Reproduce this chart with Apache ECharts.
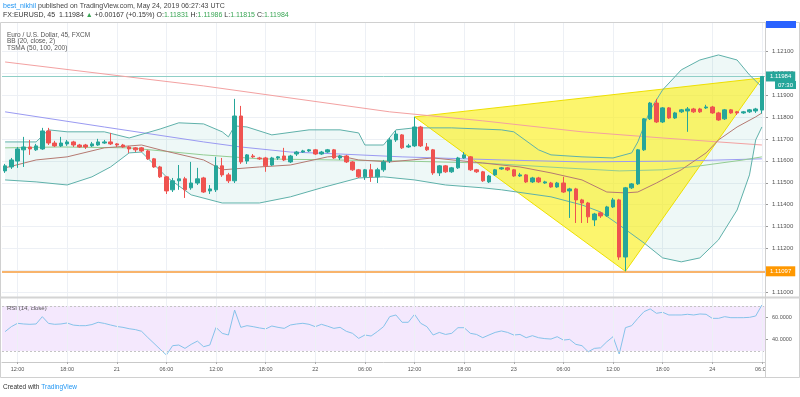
<!DOCTYPE html>
<html>
<head>
<meta charset="utf-8">
<script src="https://cdn.jsdelivr.net/npm/echarts@6.0.0/dist/echarts.min.js"></script>
<style>
html,body{margin:0;padding:0;background:#ffffff;}
#chart{width:800px;height:397px;}
</style>
</head>
<body>
<div id="chart"></div>
<script>
// ---------------- data ----------------
const barStartUTC = Date.UTC(2019, 4, 20, 10, 30);
const barMinutes = 45;

// [open, close, low, high]
const ohlc = [
[1.11554,1.11577,1.11545,1.11586],[1.11572,1.11604,1.11563,1.11613],[1.11599,1.11654,1.11568,1.11663],[1.11650,1.11663,1.11572,1.11709],
[1.11663,1.11654,1.11627,1.11695],[1.11650,1.11668,1.11645,1.11677],[1.11654,1.11736,1.11650,1.11750],[1.11736,1.11681,1.11672,1.11750],
[1.11681,1.11668,1.11663,1.11691],[1.11668,1.11681,1.11663,1.11709],[1.11677,1.11686,1.11668,1.11695],[1.11686,1.11672,1.11663,1.11691],
[1.11672,1.11663,1.11659,1.11677],[1.11672,1.11663,1.11654,1.11677],[1.11668,1.11677,1.11663,1.11686],[1.11672,1.11686,1.11668,1.11700],
[1.11681,1.11686,1.11677,1.11695],[1.11686,1.11677,1.11672,1.11727],[1.11677,1.11672,1.11663,1.11681],[1.11672,1.11663,1.11659,1.11677],
[1.11663,1.11654,1.11636,1.11668],[1.11659,1.11650,1.11640,1.11663],[1.11659,1.11645,1.11640,1.11663],[1.11645,1.11609,1.11604,1.11650],
[1.11609,1.11572,1.11568,1.11613],[1.11572,1.11527,1.11522,1.11577],[1.11527,1.11463,1.11449,1.11531],[1.11468,1.11509,1.11458,1.11522],
[1.11509,1.11518,1.11468,1.11581],[1.11518,1.11468,1.11431,1.11527],[1.11477,1.11499,1.11468,1.11595],[1.11499,1.11518,1.11490,1.11568],
[1.11522,1.11458,1.11454,1.11527],[1.11463,1.11472,1.11449,1.11490],[1.11468,1.11577,1.11458,1.11618],[1.11577,1.11536,1.11527,1.11613],
[1.11536,1.11509,1.11499,1.11545],[1.11509,1.11804,1.11499,1.11882],[1.11804,1.11595,1.11586,1.11850],[1.11599,1.11627,1.11586,1.11631],
[1.11622,1.11618,1.11613,1.11631],[1.11613,1.11609,1.11604,1.11618],[1.11613,1.11577,1.11550,1.11618],[1.11581,1.11613,1.11577,1.11618],
[1.11613,1.11618,1.11604,1.11622],[1.11622,1.11604,1.11599,1.11659],[1.11595,1.11622,1.11590,1.11627],[1.11631,1.11640,1.11622,1.11645],
[1.11640,1.11645,1.11636,1.11650],[1.11645,1.11650,1.11640,1.11654],[1.11650,1.11631,1.11627,1.11654],[1.11631,1.11640,1.11627,1.11645],
[1.11640,1.11650,1.11636,1.11654],[1.11650,1.11613,1.11609,1.11654],[1.11613,1.11622,1.11604,1.11627],[1.11622,1.11595,1.11590,1.11627],
[1.11595,1.11559,1.11554,1.11599],[1.11559,1.11527,1.11522,1.11563],[1.11527,1.11559,1.11513,1.11563],[1.11559,1.11527,1.11504,1.11586],
[1.11527,1.11559,1.11499,1.11568],[1.11559,1.11595,1.11550,1.11604],[1.11599,1.11695,1.11590,1.11704],[1.11695,1.11722,1.11686,1.11736],
[1.11718,1.11659,1.11654,1.11722],[1.11663,1.11668,1.11659,1.11677],[1.11668,1.11754,1.11663,1.11800],[1.11754,1.11668,1.11663,1.11759],
[1.11663,1.11650,1.11645,1.11681],[1.11650,1.11545,1.11536,1.11654],[1.11545,1.11577,1.11531,1.11581],[1.11577,1.11550,1.11545,1.11581],
[1.11550,1.11568,1.11545,1.11572],[1.11568,1.11613,1.11563,1.11618],[1.11613,1.11627,1.11609,1.11640],[1.11618,1.11559,1.11554,1.11622],
[1.11559,1.11550,1.11545,1.11563],[1.11550,1.11509,1.11504,1.11554],[1.11504,1.11531,1.11499,1.11536],[1.11536,1.11559,1.11531,1.11563],
[1.11563,1.11568,1.11559,1.11572],[1.11568,1.11559,1.11554,1.11572],[1.11559,1.11531,1.11527,1.11563],[1.11531,1.11536,1.11527,1.11545],
[1.11536,1.11504,1.11499,1.11540],[1.11504,1.11522,1.11499,1.11527],[1.11522,1.11504,1.11499,1.11527],[1.11499,1.11504,1.11495,1.11509],
[1.11499,1.11481,1.11477,1.11504],[1.11481,1.11499,1.11477,1.11504],[1.11499,1.11458,1.11454,1.11527],[1.11463,1.11472,1.11340,1.11477],
[1.11472,1.11422,1.11317,1.11477],[1.11422,1.11408,1.11317,1.11427],[1.11408,1.11345,1.11317,1.11413],[1.11331,1.11358,1.11303,1.11363],
[1.11363,1.11349,1.11340,1.11368],[1.11349,1.11390,1.11345,1.11395],[1.11390,1.11422,1.11385,1.11431],[1.11422,1.11162,1.11149,1.11427],
[1.11162,1.11477,1.11097,1.11481],[1.11477,1.11495,1.11472,1.11499],[1.11495,1.11650,1.11490,1.11654],[1.11650,1.11791,1.11645,1.11795],
[1.11791,1.11863,1.11786,1.11868],[1.11863,1.11777,1.11772,1.11882],[1.11777,1.11841,1.11772,1.11845],[1.11841,1.11795,1.11791,1.11845],
[1.11795,1.11818,1.11791,1.11823],[1.11823,1.11832,1.11818,1.11836],[1.11827,1.11836,1.11732,1.11845],[1.11836,1.11823,1.11818,1.11841],
[1.11836,1.11823,1.11818,1.11841],[1.11841,1.11845,1.11836,1.11855],[1.11845,1.11818,1.11814,1.11850],[1.11818,1.11786,1.11782,1.11823],
[1.11791,1.11832,1.11786,1.11836],[1.11832,1.11818,1.11814,1.11836],[1.11823,1.11818,1.11809,1.11827],[1.11818,1.11823,1.11814,1.11827],
[1.11823,1.11832,1.11818,1.11836],[1.11827,1.11836,1.11818,1.11841],[1.11831,1.11984,1.11815,1.11986]
];

const rsi14 = [
47.2,51.6,54.6,54.0,53.7,54.0,60.5,54.5,53.7,54.0,54.9,53.0,52.5,52.5,53.5,55.5,54.5,53.1,51.8,51.0,
49.8,49.0,47.5,42.0,36.8,31.5,26.4,34.7,35.3,32.3,35.9,38.8,33.8,35.3,51.0,45.7,44.2,66.4,51.0,52.5,
51.6,50.5,49.6,52.2,51.0,50.1,53.1,54.0,54.6,53.7,51.6,53.7,52.0,50.1,51.0,47.5,45.7,41.2,44.2,43.3,
47.2,51.6,60.5,62.0,55.5,55.5,62.6,54.6,51.6,44.2,46.5,44.7,45.7,50.7,50.7,45.7,44.7,41.8,44.2,46.5,
47.8,46.5,44.2,44.7,41.8,43.6,41.8,41.0,40.6,42.7,39.7,40.3,35.9,34.7,29.3,32.3,32.8,38.2,42.7,27.3,
50.7,52.5,59.0,65.0,67.4,63.5,64.4,62.0,62.0,62.0,62.6,62.0,62.9,62.6,59.0,59.0,60.5,59.6,59.6,59.6,
59.9,61.1,70.9
];

// [bar index, value]
const sma50 = [[0,1.11659],[9,1.11663],[20,1.11659],[32,1.11627],[41,1.11609],[53,1.11604],[64,1.11599],[77,1.11590],[90,1.11568],[99,1.11554],[106,1.11559],[112,1.11577],[119,1.11604],[122,1.11618]];
const sma100 = [[0,1.11823],[16,1.11754],[32,1.11686],[38,1.11663],[46,1.11640],[54,1.11631],[64,1.11618],[80,1.11604],[93,1.11595],[109,1.11599],[122,1.11609]];
const sma200 = [[0,1.12050],[24,1.11968],[32,1.11941],[62,1.11823],[77,1.11782],[93,1.11732],[106,1.11704],[122,1.11672]];
const bbUpper = [[0,1.11686],[5,1.11686],[7,1.11741],[10,1.11732],[16,1.11732],[20,1.11704],[25,1.11745],[28,1.11773],[32,1.11768],[35,1.11732],[36,1.11709],[37,1.11759],[39,1.11754],[43,1.11718],[49,1.11741],[54,1.11741],[57,1.11727],[58,1.11672],[61,1.11672],[63,1.11741],[66,1.11750],[72,1.11750],[80,1.11741],[82,1.11732],[86,1.11650],[88,1.11627],[93,1.11618],[98,1.11613],[101,1.11636],[102,1.11686],[104,1.11832],[106,1.11923],[109,1.12014],[112,1.12059],[115,1.12082],[118,1.12059],[120,1.11991],[122,1.11936]];
const bbBasis = [[0,1.11568],[5,1.11604],[10,1.11618],[16,1.11659],[22,1.11672],[25,1.11650],[32,1.11604],[35,1.11559],[41,1.11572],[46,1.11581],[52,1.11618],[54,1.11622],[57,1.11604],[62,1.11595],[69,1.11613],[77,1.11590],[83,1.11572],[88,1.11545],[93,1.11513],[97,1.11458],[100,1.11454],[102,1.11458],[105,1.11499],[109,1.11559],[113,1.11636],[115,1.11695],[118,1.11754],[121,1.11800],[122,1.11818]];
const bbLower = [[0,1.11513],[5,1.11504],[10,1.11490],[14,1.11527],[17,1.11572],[20,1.11636],[22,1.11640],[26,1.11527],[30,1.11445],[35,1.11408],[41,1.11408],[46,1.11436],[51,1.11477],[57,1.11522],[61,1.11527],[66,1.11513],[71,1.11490],[77,1.11477],[80,1.11468],[88,1.11436],[93,1.11399],[96,1.11367],[99,1.11308],[103,1.11226],[106,1.11158],[109,1.11140],[112,1.11158],[115,1.11240],[118,1.11376],[120,1.11536],[121,1.11695],[122,1.11754]];

const triangle = [[66,1.11800],[100,1.11097],[122,1.11977]];
const lowMark = 1.11097;
const lastPrice = 1.11984;
const barCountdown = '07:30';
const priceTicks = [1.110,1.111,1.112,1.113,1.114,1.115,1.116,1.117,1.118,1.119,1.120,1.121];
const rsiTicks = [40, 60];
const rsiBand = [30, 70];

// ---------------- chart ----------------
const FONT = 'Liberation Sans, Arial, sans-serif';
const cats = ohlc.map((_, i) => new Date(barStartUTC + i * barMinutes * 60000).toISOString().slice(8, 16).replace('T', ' '));
const isMajor = (c) => { const h = +c.slice(3, 5), m = +c.slice(6, 8); return m === 0 && h % 6 === 0; };
const majorIdx = cats.map((c, i) => isMajor(c) ? i : -1).filter(i => i >= 0);
const fmtTime = (c) => c.slice(3) === '00:00' ? String(+c.slice(0, 2)) : c.slice(3);
const gridLine = { color: '#edf0f5', width: 1, type: 'solid' };

function lineSeries(data, color) {
  return { type: 'line', xAxisIndex: 0, yAxisIndex: 0, data: data, symbol: 'none', showSymbol: false, silent: true,
    z: 5.7, lineStyle: { color: color, width: 1 } };
}

// invisible carrier series for the price-pane grid lines
const gridCarrier = { type: 'line', xAxisIndex: 0, yAxisIndex: 0, data: [[0, lastPrice]], symbol: 'none', showSymbol: false,
  silent: true, z: 0, lineStyle: { opacity: 0 },
  markLine: { silent: true, z: 0, precision: 5, symbol: ['none', 'none'], label: { show: false }, lineStyle: gridLine,
    data: majorIdx.map(i => ({ xAxis: i })).concat(priceTicks.map(v => ({ yAxis: v }))) } };

const chart = echarts.init(document.getElementById('chart'), null, { renderer: 'canvas' });
chart.setOption({
  animation: false,
  backgroundColor: '#ffffff',
  grid: [
    { left: 2, right: 35, top: 22, height: 275 },
    { left: 2, right: 35, top: 298, height: 64 }
  ],
  xAxis: [
    { type: 'category', gridIndex: 0, data: cats, boundaryGap: true,
      axisLine: { show: false }, axisTick: { show: false }, axisLabel: { show: false }, splitLine: { show: false } },
    { type: 'category', gridIndex: 1, data: cats, boundaryGap: true,
      axisLine: { show: true, lineStyle: { color: '#c9c9c9' } },
      axisTick: { show: true, alignWithLabel: true, length: 2, interval: (i, v) => isMajor(v), lineStyle: { color: '#aaa' } },
      axisLabel: { show: true, interval: (i, v) => isMajor(v), formatter: fmtTime, fontSize: 5.5, color: '#555', margin: 4, fontFamily: FONT },
      splitLine: { show: false } }
  ],
  yAxis: [
    { type: 'value', gridIndex: 0, position: 'right', min: 1.1098, max: 1.12232,
      axisLine: { show: false }, splitLine: { show: false },
      axisTick: { show: true, length: 3, customValues: priceTicks, lineStyle: { color: '#999' } },
      axisLabel: { show: true, customValues: priceTicks, formatter: v => v.toFixed(5), fontSize: 6, color: '#555', margin: 7, fontFamily: FONT } },
    { type: 'value', gridIndex: 1, position: 'right', min: 20.2, max: 77.1,
      axisLine: { show: false }, splitLine: { show: false },
      axisTick: { show: true, length: 3, customValues: rsiTicks, lineStyle: { color: '#999' } },
      axisLabel: { show: true, customValues: rsiTicks, formatter: v => v.toFixed(4), fontSize: 5.5, color: '#555', margin: 7, fontFamily: FONT } }
  ],
  series: [
    gridCarrier,
    { type: 'custom', xAxisIndex: 0, yAxisIndex: 0, z: 1, silent: true, data: [[0, lastPrice]],
      renderItem: (p, api) => ({ type: 'polygon',
        shape: { points: bbUpper.map(d => api.coord(d)).concat(bbLower.slice().reverse().map(d => api.coord(d))) },
        style: { fill: 'rgba(38,166,154,0.08)' } }) },
    { type: 'custom', xAxisIndex: 0, yAxisIndex: 0, z: 5.5, silent: true, data: [[0, lastPrice]],
      renderItem: (p, api) => ({ type: 'polygon',
        shape: { points: triangle.map(d => api.coord(d)) },
        style: { fill: 'rgba(250,240,40,0.68)', stroke: '#eee000', lineWidth: 1 } }) },
    lineSeries(sma200, '#f3a1a1'),
    lineSeries(sma100, '#9a9af2'),
    lineSeries(sma50, '#93cd93'),
    lineSeries(bbBasis, '#b57a72'),
    lineSeries(bbUpper, '#5fb1aa'),
    lineSeries(bbLower, '#5fb1aa'),
    { type: 'candlestick', xAxisIndex: 0, yAxisIndex: 0, z: 6, data: ohlc, barWidth: 4,
      itemStyle: { color: '#26a69a', color0: '#ef5350', borderColor: '#26a69a', borderColor0: '#ef5350', borderWidth: 1 },
      markLine: { silent: true, precision: 5, symbol: ['none', 'none'],
        data: [
          { yAxis: lowMark, lineStyle: { color: '#f8b46c', width: 2, type: 'solid' },
            label: { show: true, position: 'end', distance: 1, formatter: p => Number(p.value).toFixed(5),
              backgroundColor: '#ff9800', color: '#ffffff', fontSize: 6, padding: [2, 4], fontFamily: FONT } },
          { yAxis: lastPrice, lineStyle: { color: '#8fcfc7', width: 1, type: 'solid' },
            label: { show: true, position: 'end', distance: 1, formatter: p => Number(p.value).toFixed(5),
              backgroundColor: '#26a69a', color: '#ffffff', fontSize: 6, padding: [2, 4], fontFamily: FONT } }
        ] } },
    { type: 'line', xAxisIndex: 1, yAxisIndex: 1, data: rsi14, symbol: 'none', showSymbol: false, silent: true, z: 3,
      lineStyle: { color: '#86c3ea', width: 1 },
      markArea: { silent: true, itemStyle: { color: 'rgba(190,120,245,0.17)' }, data: [[{ yAxis: rsiBand[0] }, { yAxis: rsiBand[1] }]] },
      markLine: { silent: true, symbol: ['none', 'none'], label: { show: false },
        data: rsiBand.map(v => ({ yAxis: v, lineStyle: { color: '#c4c4c4', type: [2, 2], width: 1 } }))
          .concat(majorIdx.map(i => ({ xAxis: i, lineStyle: gridLine }))) } }
  ],
  graphic: [
    { type: 'text', x: 3, y: 6, z: 20, silent: true,
      style: { text: '{u|best_nikhil} published on TradingView.com, May 24, 2019 06:27:43 UTC',
        rich: { u: { fill: '#2196f3', fontSize: 7, fontFamily: FONT } },
        fill: '#444', fontSize: 7, fontFamily: FONT, verticalAlign: 'middle' } },
    { type: 'text', x: 3, y: 15, z: 20, silent: true,
      style: { text: 'FX:EURUSD, 45  1.11984 {g|▲} +0.00167 (+0.15%) O:{g|1.11831} H:{g|1.11986} L:{g|1.11815} C:{g|1.11984}',
        rich: { g: { fill: '#3aa655', fontSize: 7, fontFamily: FONT } },
        fill: '#333', fontSize: 7, fontFamily: FONT, verticalAlign: 'middle' } },
    { type: 'rect', z: 20, silent: true, shape: { x: 0.5, y: 22.5, width: 799, height: 355 }, style: { fill: 'none', stroke: '#d0d0d0', lineWidth: 1 } },
    { type: 'rect', z: 19, silent: true, shape: { x: 766, y: 363, width: 33, height: 14 }, style: { fill: '#ffffff' } },
    { type: 'line', z: 20, silent: true, shape: { x1: 0, y1: 297.5, x2: 800, y2: 297.5 }, style: { stroke: '#d4d4d4', lineWidth: 2 } },
    { type: 'line', z: 20, silent: true, shape: { x1: 765.5, y1: 22, x2: 765.5, y2: 377 }, style: { stroke: '#cfcfcf', lineWidth: 1 } },
    { type: 'rect', z: 21, silent: true, shape: { x: 766, y: 21, width: 30, height: 7 }, style: { fill: '#2962ff' } },
    { type: 'rect', z: 21, silent: true, shape: { x: 775, y: 81, width: 21, height: 8 }, style: { fill: '#26a69a' } },
    { type: 'text', x: 785.5, y: 85, z: 22, silent: true,
      style: { text: barCountdown, fill: '#ffffff', fontSize: 6, fontFamily: FONT, align: 'center', verticalAlign: 'middle' } },
    { type: 'text', x: 7, y: 35, z: 20, silent: true,
      style: { text: 'Euro / U.S. Dollar, 45, FXCM', fill: '#555', fontSize: 6.5, fontFamily: FONT, verticalAlign: 'middle' } },
    { type: 'text', x: 7, y: 41.5, z: 20, silent: true,
      style: { text: 'BB (20, close, 2)', fill: '#555', fontSize: 6.5, fontFamily: FONT, verticalAlign: 'middle' } },
    { type: 'text', x: 7, y: 48, z: 20, silent: true,
      style: { text: 'TSMA (50, 100, 200)', fill: '#555', fontSize: 6.5, fontFamily: FONT, verticalAlign: 'middle' } },
    { type: 'text', x: 7, y: 308, z: 20, silent: true,
      style: { text: 'RSI (14, close)', fill: '#555', fontSize: 6, fontFamily: FONT, verticalAlign: 'middle' } },
    { type: 'text', x: 3, y: 387, z: 20, silent: true,
      style: { text: 'Created with {u|TradingView}', rich: { u: { fill: '#2196f3', fontSize: 6.5, fontFamily: FONT } },
        fill: '#333', fontSize: 6.5, fontFamily: FONT, verticalAlign: 'middle' } }
  ]
});
</script>
</body>
</html>
